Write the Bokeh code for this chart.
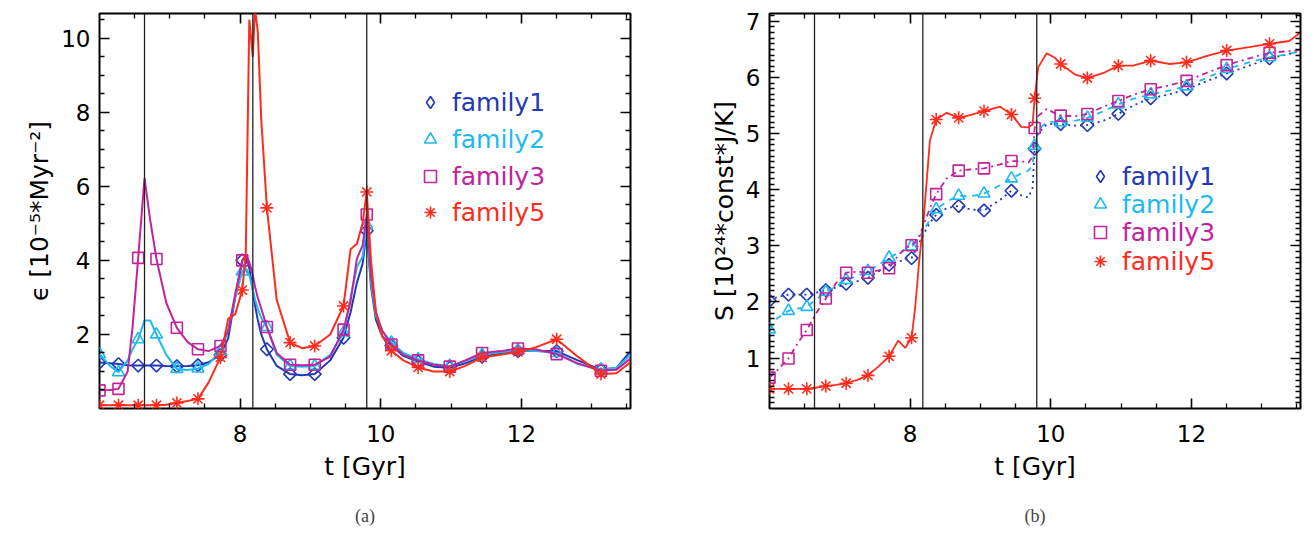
import numpy as np
from bokeh.plotting import figure
from bokeh.models import Range1d, FixedTicker, LinearAxis, Span, Legend, LegendItem, Title
from bokeh.layouts import row
from bokeh.embed import file_html
from bokeh.resources import INLINE

FONT = "DejaVu Sans"
FAMILIES = ["family1", "family2", "family3", "family5"]
COLORS = ["#2238b4", "#1cb9f2", "#c2239c", "#ff2b1c"]
MARKERS = ["square", "triangle", "square", "asterisk"]
MARKER_ANGLES = [np.pi / 4, 0.0, 0.0, 0.0]
MARKER_SIZES = [9, 12, 11, 13]
LEG_MARKERS = ["diamond", "triangle", "square", "asterisk"]
DASHES_B = ["dotted", "dashed", "dashdot", "solid"]
EVENT_T = [6.64, 8.18, 9.80]

X_MAJOR = [8, 10, 12]

# ---------------- panel (a): epsilon ----------------
T_A = [6.0, 6.15, 6.27, 6.4, 6.47, 6.55, 6.64, 6.72, 6.81, 6.95,
       7.10, 7.25, 7.40, 7.55, 7.72, 7.83, 7.93, 8.03, 8.08, 8.13,
       8.18, 8.21, 8.25, 8.30, 8.38, 8.52, 8.71, 8.88, 9.06, 9.28,
       9.47, 9.57, 9.66, 9.74, 9.80, 9.86, 9.93, 10.02, 10.15, 10.32,
       10.53, 10.75, 10.98, 11.2, 11.44, 11.7, 11.95, 12.2, 12.5, 12.8,
       13.13, 13.35, 13.55]
EPS_F1 = [1.24, 1.22, 1.2, 1.17, 1.16, 1.16, 1.16, 1.16, 1.16, 1.15,
          1.14, 1.15, 1.17, 1.25, 1.45, 1.9, 3.0, 4.0, 4.1, 3.8,
          3.2, 2.8, 2.4, 2.0, 1.6, 1.15, 0.93, 0.9, 0.93, 1.3,
          1.91, 2.6, 3.4, 3.9, 4.8, 3.3, 2.4, 1.95, 1.7, 1.42,
          1.27, 1.13, 1.1, 1.22, 1.4, 1.5, 1.55, 1.55, 1.55, 1.3,
          1.05, 1.1, 1.55]
EPS_F2 = [1.47, 1.15, 0.98, 1.3, 1.6, 1.87, 2.38, 2.38, 2.0, 1.45,
          1.07, 1.04, 1.08, 1.2, 1.55, 2.1, 3.0, 3.7, 3.8, 3.6,
          3.2, 2.95, 2.7, 2.45, 2.2, 1.45, 1.15, 1.13, 1.15, 1.45,
          2.05, 3.0, 3.82, 4.1, 4.95, 3.4, 2.5, 2.1, 1.78, 1.5,
          1.33, 1.2, 1.15, 1.28, 1.45, 1.52, 1.57, 1.55, 1.5, 1.2,
          1.05, 1.1, 1.45]
EPS_F3 = [0.49, 0.5, 0.53, 1.0, 2.2, 4.07, 6.22, 5.1, 4.04, 2.85,
          2.18, 1.8, 1.6, 1.55, 1.69, 2.1, 3.1, 4.0, 4.15, 3.95,
          3.6, 3.3, 3.0, 2.7, 2.2, 1.5, 1.18, 1.17, 1.18, 1.4,
          2.13, 2.9, 4.05, 4.4, 5.24, 3.6, 2.6, 2.1, 1.73, 1.45,
          1.3, 1.18, 1.13, 1.3, 1.5, 1.55, 1.62, 1.6, 1.47, 1.22,
          1.02, 1.05, 1.35]
EPS_F5 = [0.09, 0.09, 0.09, 0.09, 0.09, 0.09, 0.09, 0.09, 0.09, 0.1,
          0.15, 0.2, 0.26, 0.7, 1.38, 2.42, 2.55, 3.2, 4.2, 10.5,
          9.5, 10.8, 10.2, 7.8, 5.42, 2.93, 1.78, 1.63, 1.69, 2.0,
          2.77, 4.3, 4.45, 5.0, 5.85, 4.0, 2.6, 1.95, 1.56, 1.3,
          1.11, 1.0, 1.0, 1.15, 1.38, 1.45, 1.53, 1.65, 1.87, 1.4,
          0.93, 0.95, 1.25]
TM_A = [6.0, 6.27, 6.55, 6.81, 7.10, 7.40, 7.72, 8.03, 8.38, 8.71,
        9.06, 9.47, 9.80, 10.15, 10.53, 10.98, 11.44, 11.95, 12.5, 13.13]

# ---------------- panel (b): S ----------------
T_B = [6.0, 6.1, 6.27, 6.4, 6.53, 6.65, 6.80, 6.95, 7.09, 7.25,
       7.40, 7.55, 7.70, 7.83, 7.93, 8.02, 8.07, 8.13, 8.19, 8.28,
       8.37, 8.52, 8.69, 8.85, 9.05, 9.28, 9.44, 9.58, 9.68, 9.74,
       9.77, 9.82, 9.94, 10.06, 10.14, 10.35, 10.52, 10.75, 10.96, 11.17,
       11.42, 11.69, 11.93, 12.21, 12.5, 12.82, 13.11, 13.39, 13.55]
S_F1 = [2.02, 2.08, 2.13, 2.13, 2.13, 2.16, 2.21, 2.26, 2.32, 2.37,
        2.43, 2.54, 2.66, 2.72, 2.75, 2.78, 2.90, 3.05, 3.21, 3.41,
        3.55, 3.67, 3.71, 3.65, 3.63, 3.82, 3.98, 3.90, 3.86, 4.03,
        4.73, 5.01, 5.16, 5.18, 5.17, 5.14, 5.15, 5.23, 5.35, 5.50,
        5.63, 5.70, 5.79, 5.93, 6.07, 6.21, 6.34, 6.42, 6.47]
S_F2 = [1.51, 1.70, 1.84, 1.88, 1.91, 2.03, 2.18, 2.28, 2.39, 2.46,
        2.55, 2.66, 2.79, 2.87, 2.93, 2.99, 3.05, 3.16, 3.28, 3.46,
        3.65, 3.79, 3.89, 3.88, 3.93, 4.08, 4.20, 4.29, 4.34, 4.44,
        4.78, 5.06, 5.21, 5.21, 5.20, 5.23, 5.28, 5.40, 5.52, 5.62,
        5.70, 5.77, 5.84, 5.99, 6.15, 6.27, 6.36, 6.42, 6.47]
S_F3 = [0.65, 0.77, 0.99, 1.26, 1.50, 1.77, 2.06, 2.34, 2.52, 2.54,
        2.52, 2.56, 2.60, 2.83, 2.95, 3.01, 3.07, 3.18, 3.36, 3.67,
        3.92, 4.20, 4.34, 4.36, 4.38, 4.45, 4.51, 4.51, 4.48, 4.59,
        5.10, 5.31, 5.44, 5.36, 5.32, 5.31, 5.35, 5.48, 5.58, 5.69,
        5.79, 5.86, 5.94, 6.08, 6.22, 6.34, 6.44, 6.47, 6.49]
S_F5 = [0.45, 0.45, 0.45, 0.45, 0.45, 0.47, 0.50, 0.52, 0.55, 0.61,
        0.69, 0.85, 1.03, 1.31, 1.18, 1.36, 1.89, 2.75, 3.44, 4.87,
        5.25, 5.37, 5.28, 5.33, 5.40, 5.48, 5.34, 5.12, 5.11, 5.16,
        5.63, 6.18, 6.43, 6.35, 6.24, 6.05, 5.99, 6.08, 6.21, 6.21,
        6.30, 6.24, 6.27, 6.38, 6.48, 6.54, 6.60, 6.65, 6.80]
TM_B = [6.0, 6.27, 6.53, 6.80, 7.09, 7.40, 7.70, 8.02, 8.37, 8.69,
        9.05, 9.44, 9.77, 10.14, 10.52, 10.96, 11.42, 11.93, 12.5, 13.11]


def pick(t_line, v_line, t_marks):
    lut = dict(zip(t_line, v_line))
    return [lut[t] for t in t_marks]


def style_axis(ax, size="23px", hidden=False):
    ax.axis_line_color = None
    ax.major_tick_in = 10
    ax.major_tick_out = 0
    ax.minor_tick_in = 5
    ax.minor_tick_out = 0
    ax.major_tick_line_color = "black"
    ax.minor_tick_line_color = "black"
    ax.major_tick_line_width = 1.6
    ax.minor_tick_line_width = 1.3
    ax.major_label_text_font = FONT
    if hidden:
        ax.major_label_text_font_size = "1px"
        ax.major_label_text_color = None
        ax.major_label_text_alpha = 0
        ax.major_label_standoff = 0
    else:
        ax.major_label_text_color = "black"
        ax.major_label_text_font_size = size
        ax.axis_label_text_font = FONT
        ax.axis_label_text_font_size = "25px"
        ax.axis_label_text_font_style = "normal"
        ax.axis_label_text_color = "black"


H = 534


def make_panel(width, bl, br, bt, frame_h, yr, ymajor, ystep, ylabel, caption):
    p = figure(width=width, height=H, x_range=Range1d(6.0, 13.55), y_range=Range1d(*yr),
               output_backend="svg", toolbar_location=None,
               min_border_left=bl, min_border_right=br, min_border_top=bt,
               min_border_bottom=H - bt - frame_h)
    p.grid.visible = False
    p.outline_line_color = "black"
    p.outline_line_width = 2
    xminor = [float(v) for v in np.arange(6.5, 13.51, 0.5) if abs(v - round(v / 2) * 2) > 1e-6]
    ymin = [float(round(v, 2)) for v in np.arange(ystep, yr[1], ystep)
            if min(abs(v - m) for m in ymajor) > 1e-6 and v > yr[0]]
    p.xaxis.ticker = FixedTicker(ticks=X_MAJOR, minor_ticks=xminor)
    p.yaxis.ticker = FixedTicker(ticks=ymajor, minor_ticks=ymin)
    for ax in p.xaxis:
        style_axis(ax)
        ax.major_label_standoff = 16
        ax.axis_label = "t [Gyr]"
        ax.axis_label_standoff = 7
    for ax in p.yaxis:
        style_axis(ax)
        ax.major_label_standoff = 9
        ax.axis_label = ylabel
        ax.axis_label_standoff = 4
    top = LinearAxis(ticker=FixedTicker(ticks=X_MAJOR, minor_ticks=xminor))
    style_axis(top, hidden=True)
    p.add_layout(top, "above")
    right = LinearAxis(ticker=FixedTicker(ticks=ymajor, minor_ticks=ymin))
    style_axis(right, hidden=True)
    p.add_layout(right, "right")
    for t in EVENT_T:
        p.add_layout(Span(location=t, dimension="height", line_color="#222222", line_width=1.3))
    p.add_layout(Title(text="\n" + caption, align="center", text_font="Liberation Serif",
                       text_font_size="18px", text_font_style="normal", standoff=0), "below")
    return p


# panel (a): frame x 99..630, y 10..409 ; panel (b): frame x 769..1300, y 13..408
pa = make_panel(660, 99, 30, 10, 399, (0.0, 10.67), [2, 4, 6, 8, 10], 0.5,
                "\u03f5 [10\u207b\u2075*Myr\u207b\u00b2]", "(a)")
pb = make_panel(652, 109, 12, 13, 395, (0.10, 7.14), [1, 2, 3, 4, 5, 6, 7], 0.1,
                "S [10\u00b2\u2074*const*J/K]", "(b)")

EPS = [EPS_F1, EPS_F2, EPS_F3, EPS_F5]
SS = [S_F1, S_F2, S_F3, S_F5]

# legend row centres above the frame bottom (pixels)
LEG_A = [306, 269, 232, 196]
LEG_B = [232, 204, 176, 147]
BOX = 30

for p, T, VALS, TM, dashes, lw, legc in [
        (pa, T_A, EPS, TM_A, ["solid"] * 4, 2.0, LEG_A),
        (pb, T_B, SS, TM_B, DASHES_B, 1.8, LEG_B)]:
    for i, fam in enumerate(FAMILIES):
        p.line(T, VALS[i], line_color=COLORS[i], line_width=lw, line_dash=dashes[i])
        r = p.scatter(TM, pick(T, VALS[i], TM), marker=MARKERS[i], size=MARKER_SIZES[i],
                      angle=MARKER_ANGLES[i],
                      line_color=COLORS[i], fill_color=None, line_width=1.6)
        if LEG_MARKERS[i] != MARKERS[i]:
            # legend-only proxy (no visible point in the plot)
            r = p.scatter(x=[np.nan], y=[np.nan], marker=LEG_MARKERS[i], line_color=COLORS[i],
                          fill_color=None, line_width=1.6)
        leg = Legend(items=[LegendItem(label=fam, renderers=[r])],
                     location=(331 - BOX // 2, legc[i] - 15),
                     label_text_color=COLORS[i], label_text_font=FONT, label_text_font_size="25px",
                     glyph_width=BOX, glyph_height=BOX, label_standoff=353 - (331 - BOX // 2) - BOX,
                     padding=0, margin=0, border_line_color=None, background_fill_alpha=0, spacing=0)
        p.add_layout(leg)

layout = row(pa, pb, spacing=0)
open("out.html", "w").write(file_html(layout, INLINE))
